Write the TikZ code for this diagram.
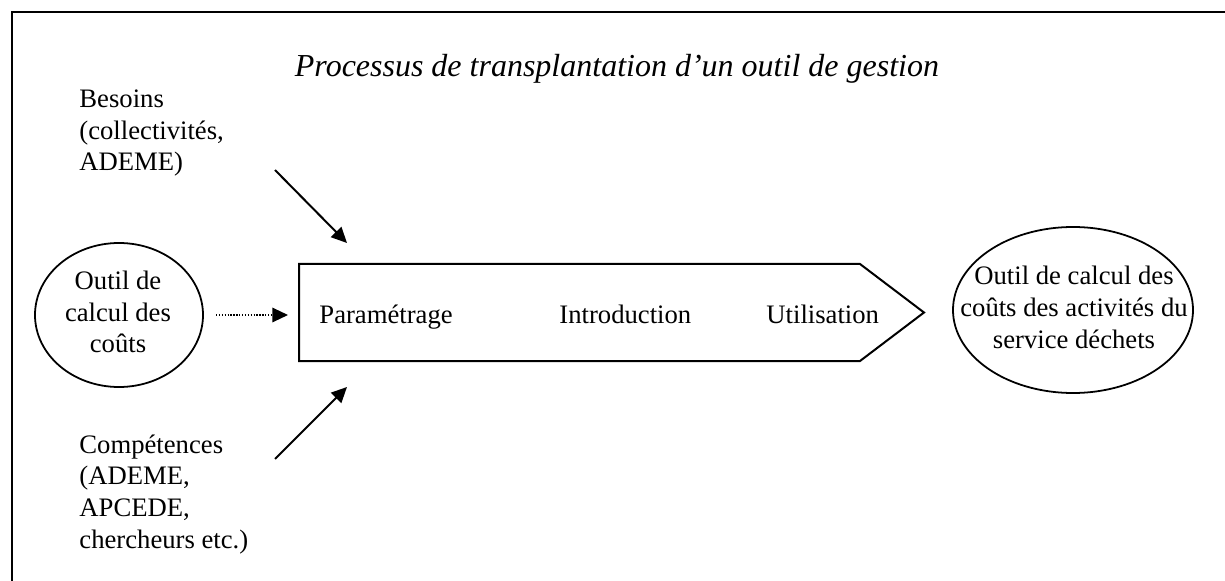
\documentclass[tikz,border=0pt]{standalone}
\usepackage{fontspec}
\setmainfont{Liberation Serif}
\usetikzlibrary{arrows.meta,shapes.geometric}
\begin{document}
\begin{tikzpicture}[x=0.45pt,y=-0.45pt,
  txt/.style={font=\fontsize{12}{14.2}\selectfont, inner sep=0pt},
  lbl/.style={font=\fontsize{12}{14.2}\selectfont, inner sep=0pt, anchor=base west},
  oval/.style={draw, ellipse, line width=0.8pt, inner sep=0pt},
  arr/.style={line width=0.9pt, -{Triangle[length=7pt,width=6.5pt]}},
  dotarr/.style={line width=0.6pt, dash pattern=on 0.6pt off 0.7pt, -{Triangle[length=7pt,width=6.5pt]}},
  frameline/.style={line width=0.9pt},
  procbox/.style={line width=0.9pt, line join=miter},
  ]
\useasboundingbox (0,0) rectangle (1225,581);
\draw[frameline] (12,581) -- (12,12.5) -- (1225,12.5);
\node[font=\fontsize{14.4}{16}\selectfont\itshape, inner sep=0pt, anchor=base] (title) at (617,77) {Processus de transplantation d’un outil de gestion};
\node[txt, align=left, anchor=base west] (besoins) at (79,171) {Besoins\\(collectivités,\\ADEME)};
\node[txt, align=left, anchor=base west] (comp) at (79,548) {Compétences\\(ADEME,\\APCEDE,\\chercheurs etc.)};
\node[oval, minimum width=75.6pt, minimum height=64.8pt] (outil) at (119,315) {};
\node[txt, align=center, anchor=base] (outiltxt) at (118,353) {Outil de\\calcul des\\coûts};
\node[oval, minimum width=108pt, minimum height=74.7pt] (result) at (1073,310) {};
\node[txt, align=center, anchor=base] (resulttxt) at (1074,348) {Outil de calcul des\\coûts des activités du\\service déchets};
\coordinate (p1) at (299,264);
\coordinate (p2) at (860,264);
\coordinate (p3) at (924,312.5);
\coordinate (p4) at (860,361);
\coordinate (p5) at (299,361);
\draw[procbox] (p1) -- (p2) -- (p3) -- (p4) -- (p5) -- cycle;
\node[lbl] (param) at (319,323) {Paramétrage};
\node[lbl] (intro) at (559,323) {Introduction};
\node[lbl] (util) at (766,323) {Utilisation};
\coordinate (a1s) at (275,170);
\coordinate (a1e) at (347,243);
\coordinate (a2s) at (275,459);
\coordinate (a2e) at (347,387);
\coordinate (dss) at (216,315);
\coordinate (dse) at (288,315);
\draw[arr] (a1s) -- (a1e);
\draw[arr] (a2s) -- (a2e);
\draw[dotarr] (dss) -- (dse);
\end{tikzpicture}
\end{document}
